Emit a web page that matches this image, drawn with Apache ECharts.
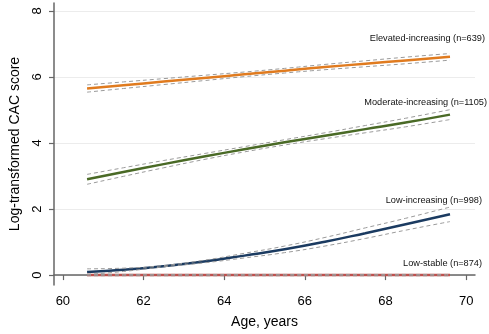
<!DOCTYPE html>
<html><head><meta charset="utf-8">
<script src="https://cdn.jsdelivr.net/npm/echarts@6/dist/echarts.min.js"></script>
<style>html,body{margin:0;padding:0;background:#fff}#c{width:489px;height:334px}</style>
</head><body><div id="c"></div>
<script>
const ages = [60.6, 61.5, 62.5, 63.5, 64.5, 65.5, 66.5, 67.5, 68.5, 69.6];
const xTicks = [60, 62, 64, 66, 68, 70];
const yTicks = [0, 2, 4, 6, 8];

const elevated      = [5.65, 5.75, 5.86, 5.97, 6.08, 6.19, 6.30, 6.40, 6.50, 6.61];
const elevatedUpper = [5.76, 5.85, 5.95, 6.05, 6.15, 6.26, 6.38, 6.49, 6.60, 6.71];
const elevatedLower = [5.54, 5.65, 5.77, 5.89, 6.01, 6.12, 6.22, 6.31, 6.40, 6.51];

const moderate      = [2.90, 3.12, 3.36, 3.59, 3.81, 4.02, 4.22, 4.42, 4.62, 4.86];
const moderateUpper = [3.05, 3.25, 3.47, 3.68, 3.89, 4.10, 4.31, 4.53, 4.75, 5.01];
const moderateLower = [2.75, 2.99, 3.25, 3.50, 3.73, 3.94, 4.13, 4.31, 4.49, 4.71];

const lowInc      = [0.09, 0.16, 0.27, 0.41, 0.59, 0.78, 1.01, 1.27, 1.54, 1.84];
const lowIncUpper = [0.19, 0.21, 0.29, 0.45, 0.66, 0.88, 1.14, 1.43, 1.72, 2.06];
const lowIncLower = [0.02, 0.11, 0.25, 0.37, 0.52, 0.68, 0.88, 1.11, 1.36, 1.62];

const lowStable      = [0, 0, 0, 0, 0, 0, 0, 0, 0, 0];
const lowStableUpper = [0.02, 0.02, 0.02, 0.02, 0.02, 0.02, 0.02, 0.02, 0.02, 0.02];
const lowStableLower = [-0.02, -0.02, -0.02, -0.02, -0.02, -0.02, -0.02, -0.02, -0.02, -0.02];

const groupLabels = ['Elevated-increasing (n=639)', 'Moderate-increasing (n=1105)', 'Low-increasing (n=998)', 'Low-stable (n=874)'];

const pair = arr => ages.map((a, i) => [a, arr[i]]);
const FONT = "Liberation Sans";

function main(name, data, color, width) {
  return { name, type: 'line', data: pair(data), smooth: true, symbol: 'none',
    lineStyle: { color, width }, z: 3, animation: false };
}
function ci(data) {
  return { type: 'line', data: pair(data), smooth: true, symbol: 'none',
    lineStyle: { color: '#9a9a9a', width: 1, type: [4, 3] }, z: 4, animation: false };
}
function lbl(text, right, top) {
  return { type: 'text', right, top, style: { text, fontFamily: FONT, fontSize: 9.2, fill: '#111' } };
}

const chart = echarts.init(document.getElementById('c'), null, { renderer: 'canvas' });
chart.setOption({
  animation: false,
  grid: { left: 52, right: 14, top: 3, bottom: 45, containLabel: false },
  xAxis: {
    type: 'value', min: 59.78, max: 70.22,
    name: 'Age, years', nameLocation: 'middle', nameGap: 30,
    nameTextStyle: { fontFamily: FONT, fontSize: 14, color: '#000' },
    axisLine: { show: true, lineStyle: { color: '#666', width: 1.5 } },
    axisTick: { show: true, length: 5, customValues: xTicks, lineStyle: { color: '#666', width: 1.2 } },
    axisLabel: { customValues: xTicks, fontFamily: FONT, fontSize: 13, color: '#000', margin: 10 },
    splitLine: { show: false }
  },
  yAxis: {
    type: 'value', min: -0.3, max: 8.24,
    name: 'Log-transformed CAC score', nameLocation: 'middle', nameGap: 32,
    nameTextStyle: { fontFamily: FONT, fontSize: 14, color: '#000' },
    axisLine: { show: true, lineStyle: { color: '#666', width: 1.5 } },
    axisTick: { show: true, length: 5, customValues: yTicks, lineStyle: { color: '#666', width: 1.2 } },
    axisLabel: { customValues: yTicks, rotate: 90, fontFamily: FONT, fontSize: 13, color: '#000', margin: 10 },
    splitLine: { show: true, lineStyle: { color: '#ececec', width: 1 } }
  },
  graphic: [
    lbl(groupLabels[0], 4, 34),
    lbl(groupLabels[1], 2, 98),
    lbl(groupLabels[2], 7, 196),
    lbl(groupLabels[3], 7, 259)
  ],
  series: [
    main('Elevated-increasing', elevated, '#e07b1f', 2.5), ci(elevatedUpper), ci(elevatedLower),
    main('Moderate-increasing', moderate, '#4a6a26', 2.5), ci(moderateUpper), ci(moderateLower),
    main('Low-increasing', lowInc, '#1b3b61', 2.5), ci(lowIncUpper), ci(lowIncLower),
    main('Low-stable', lowStable, '#c0504d', 2.5), ci(lowStableUpper), ci(lowStableLower)
  ]
});
</script></body></html>
